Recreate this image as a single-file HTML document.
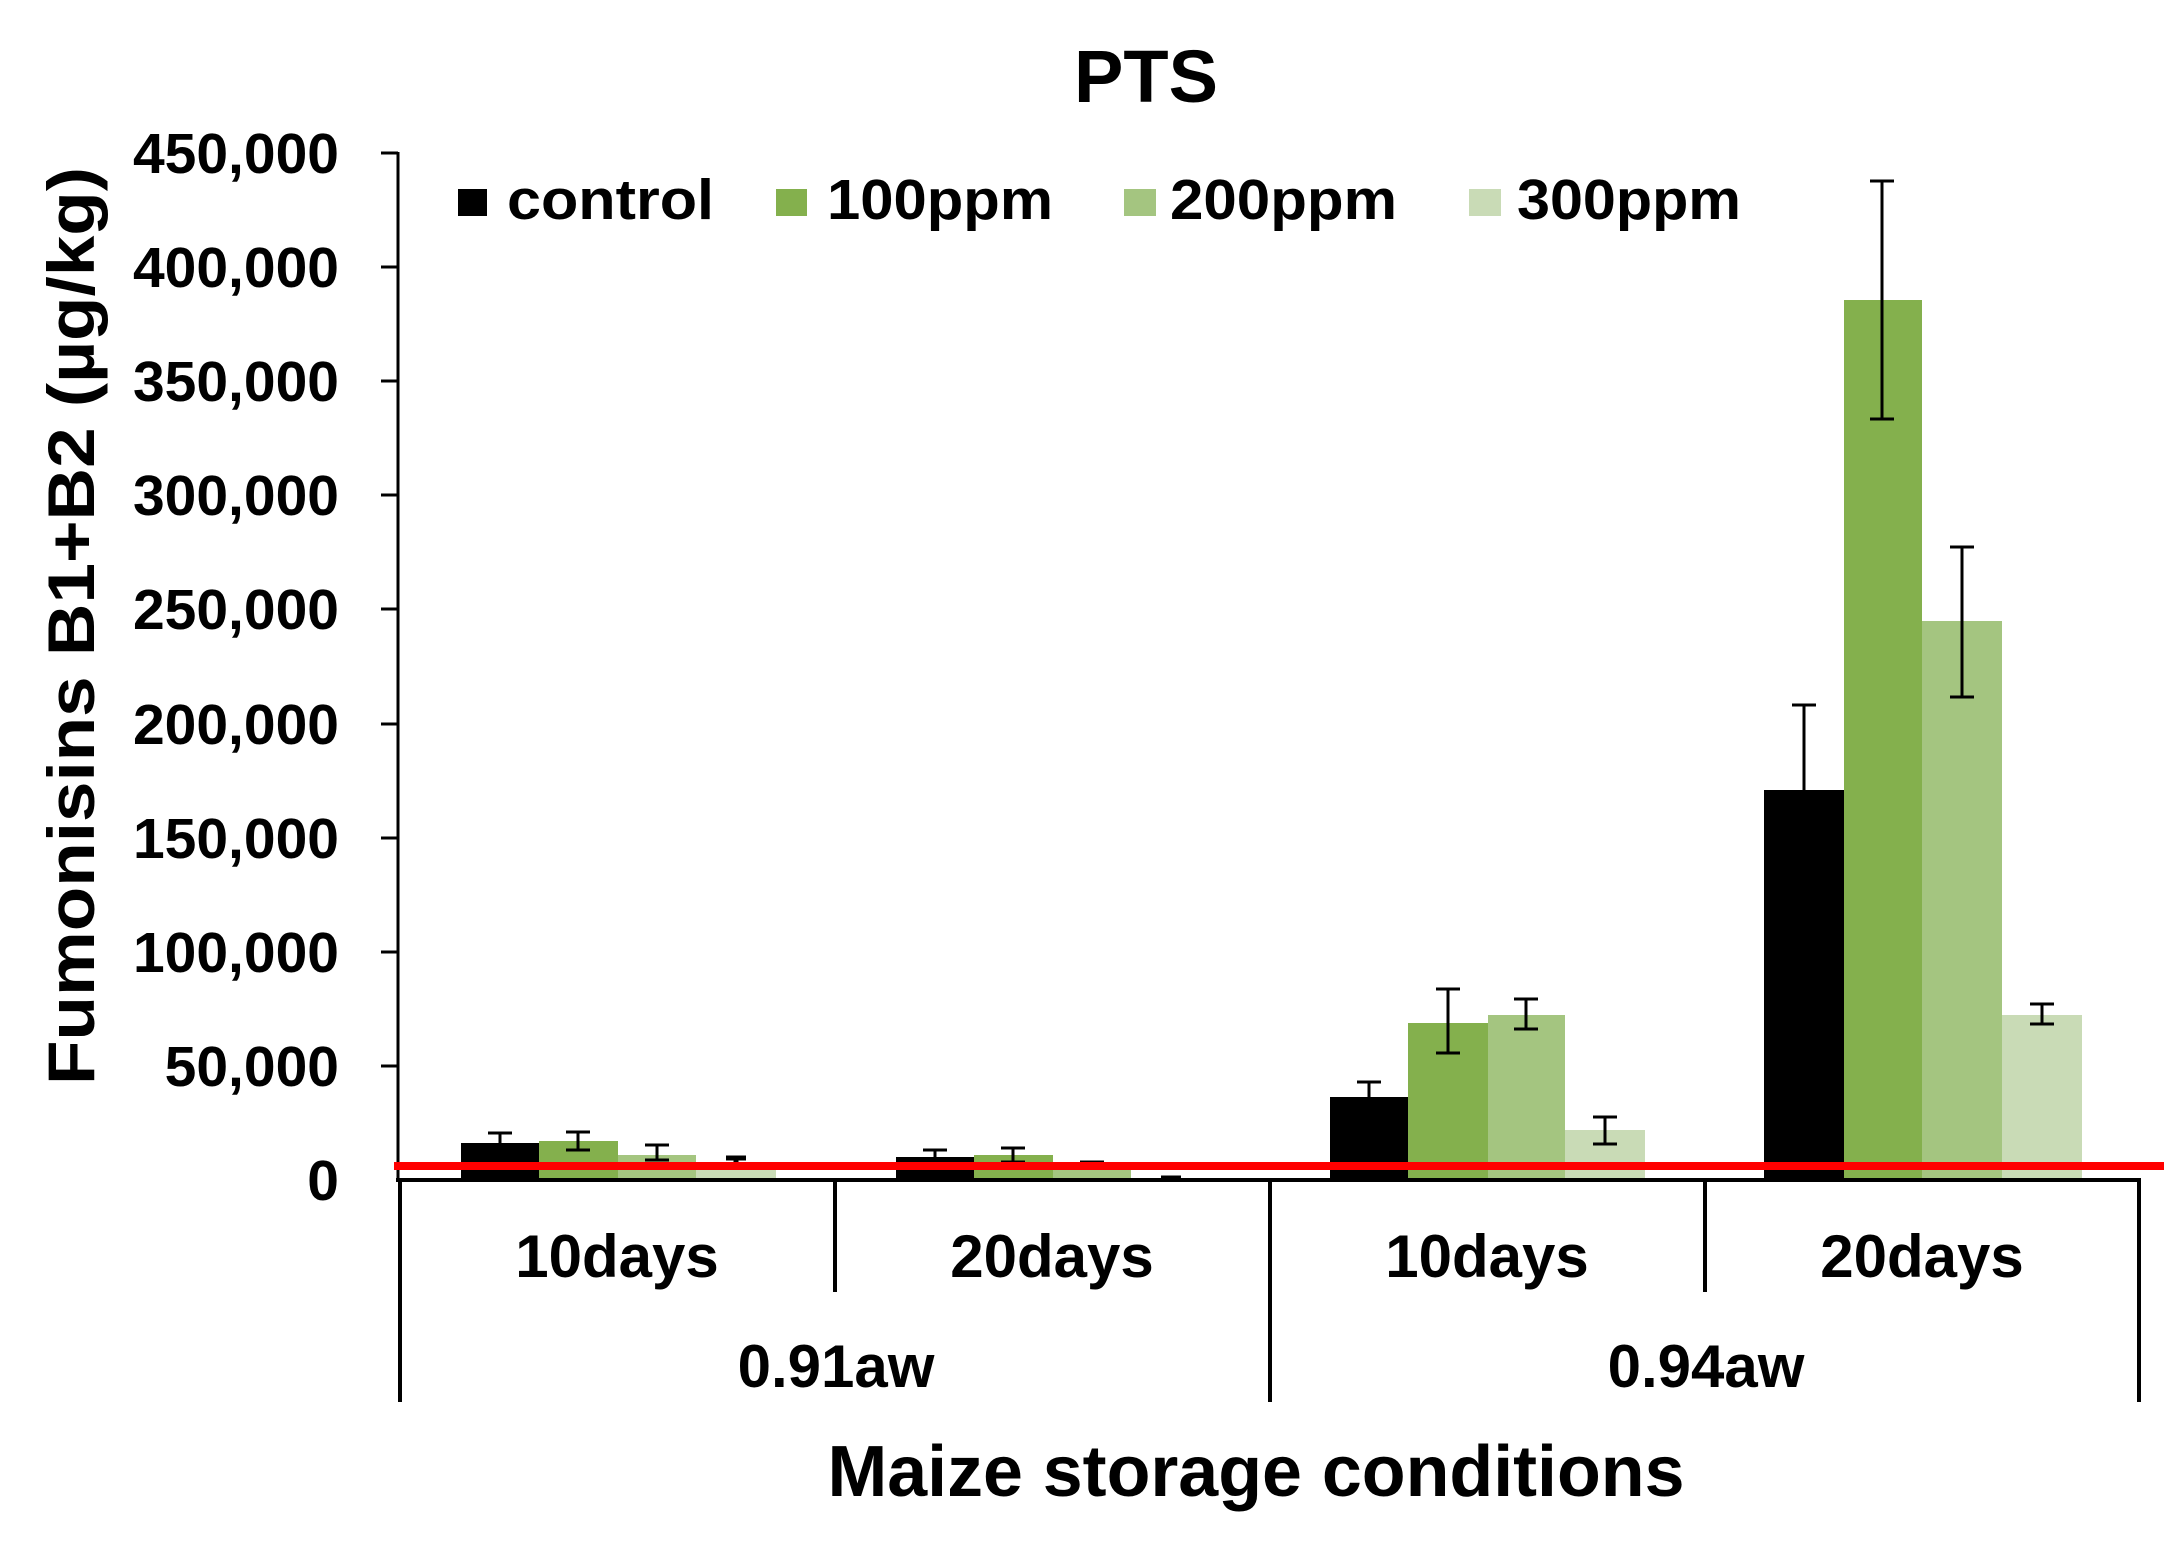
<!DOCTYPE html>
<html><head><meta charset="utf-8"><style>html,body{margin:0;padding:0;background:#fff}svg{display:block}</style></head>
<body>
<svg width="2182" height="1544" viewBox="0 0 2182 1544" xmlns="http://www.w3.org/2000/svg" font-family="Liberation Sans, Arial, sans-serif" font-weight="bold">
<rect width="2182" height="1544" fill="#fff"/>
<text x="1146" y="102" font-size="74" text-anchor="middle">PTS</text>
<!-- legend -->
<rect x="458" y="189" width="29" height="27" fill="#000"/>
<text x="507" y="219" font-size="57" textLength="207" lengthAdjust="spacingAndGlyphs">control</text>
<rect x="776" y="189" width="31" height="27" fill="#84b04d"/>
<text x="827" y="219" font-size="57" textLength="226" lengthAdjust="spacingAndGlyphs">100ppm</text>
<rect x="1124" y="189" width="32" height="27" fill="#a4c580"/>
<text x="1170" y="219" font-size="57" textLength="227" lengthAdjust="spacingAndGlyphs">200ppm</text>
<rect x="1469" y="189" width="32" height="27" fill="#c9dbb6"/>
<text x="1517" y="219" font-size="57" textLength="224" lengthAdjust="spacingAndGlyphs">300ppm</text>
<!-- y axis -->
<g stroke="#000" stroke-width="3">
<line x1="398" y1="152" x2="398" y2="1182"/>
<line x1="381" y1="153" x2="398" y2="153"/>
<line x1="381" y1="267" x2="398" y2="267"/>
<line x1="381" y1="381" x2="398" y2="381"/>
<line x1="381" y1="495" x2="398" y2="495"/>
<line x1="381" y1="609" x2="398" y2="609"/>
<line x1="381" y1="724" x2="398" y2="724"/>
<line x1="381" y1="838" x2="398" y2="838"/>
<line x1="381" y1="952" x2="398" y2="952"/>
<line x1="381" y1="1066" x2="398" y2="1066"/>
</g>
<g font-size="57" text-anchor="end">
<text x="339" y="173">450,000</text>
<text x="339" y="287">400,000</text>
<text x="339" y="401">350,000</text>
<text x="339" y="515">300,000</text>
<text x="339" y="629">250,000</text>
<text x="339" y="744">200,000</text>
<text x="339" y="858">150,000</text>
<text x="339" y="972">100,000</text>
<text x="339" y="1086">50,000</text>
<text x="339" y="1200">0</text>
</g>
<text transform="translate(94,626) rotate(-90)" font-size="66" text-anchor="middle" textLength="918" lengthAdjust="spacingAndGlyphs">Fumonisins B1+B2 (µg/kg)</text>
<!-- bars -->
<g>
<!-- g1 -->
<rect x="461" y="1143" width="78" height="37" fill="#000"/>
<rect x="539" y="1141" width="79" height="39" fill="#84b04d"/>
<rect x="618" y="1155" width="78" height="25" fill="#a4c580"/>
<rect x="696" y="1162" width="80" height="18" fill="#c9dbb6"/>
<!-- g2 -->
<rect x="896" y="1157" width="78" height="23" fill="#000"/>
<rect x="974" y="1155" width="79" height="25" fill="#84b04d"/>
<rect x="1053" y="1164" width="78" height="16" fill="#a4c580"/>
<rect x="1131" y="1178" width="80" height="2" fill="#c9dbb6"/>
<!-- g3 -->
<rect x="1330" y="1097" width="78" height="83" fill="#000"/>
<rect x="1408" y="1023" width="80" height="157" fill="#84b04d"/>
<rect x="1488" y="1015" width="77" height="165" fill="#a4c580"/>
<rect x="1565" y="1130" width="80" height="50" fill="#c9dbb6"/>
<!-- g4 -->
<rect x="1764" y="790" width="80" height="390" fill="#000"/>
<rect x="1844" y="300" width="78" height="880" fill="#84b04d"/>
<rect x="1922" y="621" width="80" height="559" fill="#a4c580"/>
<rect x="2002" y="1015" width="80" height="165" fill="#c9dbb6"/>
</g>
<!-- error bars -->
<g stroke="#000" stroke-width="3" fill="none">
<path d="M500 1133V1143M488 1133H512"/>
<path d="M578 1132V1150M566 1132H590M566 1150H590"/>
<path d="M657 1145V1160M645 1145H669M645 1160H669"/>
<path d="M736 1158V1164M726 1158H746" stroke-width="5"/>
<path d="M935 1150V1157M923 1150H947"/>
<path d="M1013 1148V1162M1001 1148H1025M1001 1162H1025"/>
<path d="M1092 1162V1168M1080 1162H1104"/>
<path d="M1171 1176V1178M1161 1177H1181"/>
<path d="M1369 1082V1097M1357 1082H1381"/>
<path d="M1448 989V1053M1436 989H1460M1436 1053H1460"/>
<path d="M1526 999V1029M1514 999H1538M1514 1029H1538"/>
<path d="M1605 1117V1144M1593 1117H1617M1593 1144H1617"/>
<path d="M1804 705V790M1792 705H1816"/>
<path d="M1882 181V419M1870 181H1894M1870 419H1894"/>
<path d="M1962 547V697M1950 547H1974M1950 697H1974"/>
<path d="M2042 1004V1024M2030 1004H2054M2030 1024H2054"/>
</g>
<!-- red line -->
<rect x="394" y="1162" width="1770" height="8" fill="#ff0000"/>
<!-- x axis -->
<g stroke="#000" stroke-width="4">
<line x1="396" y1="1180" x2="2141" y2="1180"/>
<line x1="400" y1="1180" x2="400" y2="1402"/>
<line x1="835" y1="1180" x2="835" y2="1292"/>
<line x1="1270" y1="1180" x2="1270" y2="1402"/>
<line x1="1705" y1="1180" x2="1705" y2="1292"/>
<line x1="2139" y1="1180" x2="2139" y2="1402"/>
</g>
<g font-size="60" text-anchor="middle">
<text x="617" y="1277">10days</text>
<text x="1052" y="1277">20days</text>
<text x="1487" y="1277">10days</text>
<text x="1922" y="1277">20days</text>
<text x="836" y="1387">0.91aw</text>
<text x="1706" y="1387">0.94aw</text>
</g>
<text x="1256" y="1496" font-size="72" text-anchor="middle" textLength="857" lengthAdjust="spacingAndGlyphs">Maize storage conditions</text>
</svg>
</body></html>
